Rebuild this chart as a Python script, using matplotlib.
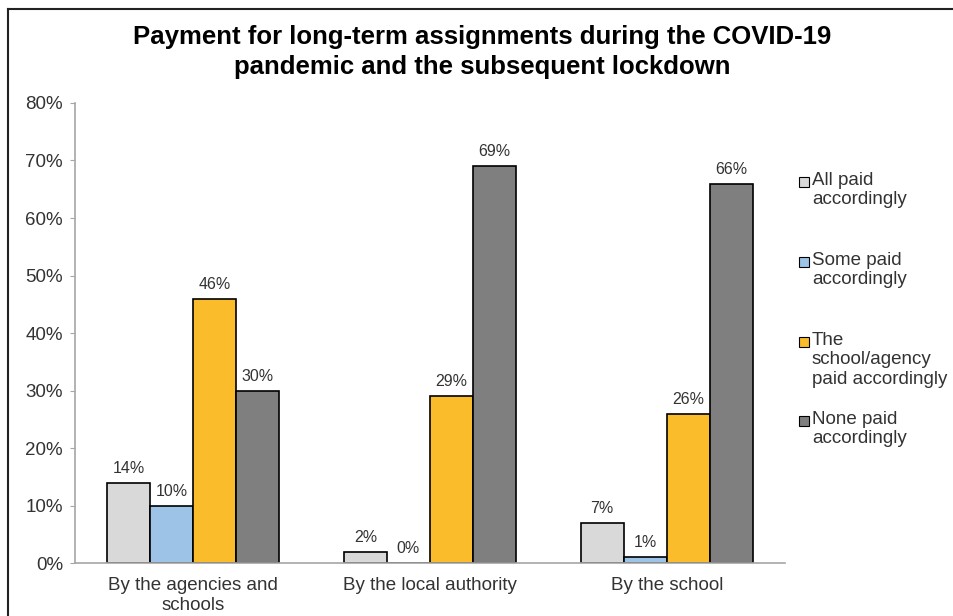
import numpy as np
import matplotlib.pyplot as plt
from matplotlib.patches import Rectangle
from matplotlib.lines import Line2D

plt.rcParams['font.family'] = ['Liberation Sans', 'DejaVu Sans']

categories = ['By the agencies and\nschools', 'By the local authority', 'By the school']
series_names = ['All paid\naccordingly', 'Some paid\naccordingly',
                'The\nschool/agency\npaid accordingly', 'None paid\naccordingly']
all_paid = [14, 2, 7]
some_paid = [10, 0, 1]
school_paid = [46, 29, 26]
none_paid = [30, 69, 66]
colors = ['#D9D9D9', '#9DC3E6', '#FBBC2C', '#7F7F7F']

values = [all_paid, some_paid, school_paid, none_paid]

fig = plt.figure(figsize=(9.54, 6.16), dpi=100)
ax = fig.add_axes([0.0786, 0.0860, 0.7443, 0.7468])

x = np.arange(len(categories))
w = 0.182
for i, (vals, col) in enumerate(zip(values, colors)):
    bars = ax.bar(x + (i - 1.5) * w, vals, w, color=col, edgecolor='black', linewidth=1.2)
    for b, v in zip(bars, vals):
        ax.annotate(f'{v}%', (b.get_x() + b.get_width() / 2, v), xytext=(0, 5),
                    textcoords='offset points', ha='center', va='bottom',
                    fontsize=11.5, color='#333333')

ax.set_xlim(-0.5, 2.5)
ax.set_ylim(0, 80)
ax.set_yticks(np.arange(0, 81, 10))
ax.set_yticklabels([f'{t}%' for t in range(0, 81, 10)])
ax.set_xticks(x)
ax.set_xticklabels(categories, linespacing=1.25)
ax.tick_params(axis='y', labelsize=13.5, colors='#333333', length=3.6, color='#A6A6A6', pad=5)
ax.tick_params(axis='x', labelsize=13.5, colors='#333333', length=0, pad=10)
for s in ['top', 'right']:
    ax.spines[s].set_visible(False)
for s in ['left', 'bottom']:
    ax.spines[s].set_color('#A6A6A6')
    ax.spines[s].set_linewidth(1.2)

fig.text(0.505, 1 - 52 / 616, 'Payment for long-term assignments during the COVID-19\n'
         'pandemic and the subsequent lockdown', ha='center', va='center',
         fontsize=18.5, fontweight='bold', linespacing=1.32)

# legend, drawn by hand so the markers line up with the first text line
leg_y = [182, 262, 342, 421]
for name, col, yy in zip(series_names, colors, leg_y):
    fy = 1 - yy / 616
    fig.patches.append(Rectangle((799 / 954, fy - 5 / 616), 10 / 954, 10 / 616,
                                 transform=fig.transFigure, facecolor=col,
                                 edgecolor='black', linewidth=0.8))
    fig.text(812 / 954, fy + 10 / 616, name, ha='left', va='top', fontsize=13.5,
             color='#333333', linespacing=1.19)

# frame of the original chart area (only top and left visible)
fig.add_artist(Line2D([8 / 954, 1], [1 - 8.5 / 616, 1 - 8.5 / 616],
                      transform=fig.transFigure, color='#222222', linewidth=1.5))
fig.add_artist(Line2D([8 / 954, 8 / 954], [0, 1 - 8.5 / 616],
                      transform=fig.transFigure, color='#222222', linewidth=1.5))

fig.savefig('out.png', dpi=100)
